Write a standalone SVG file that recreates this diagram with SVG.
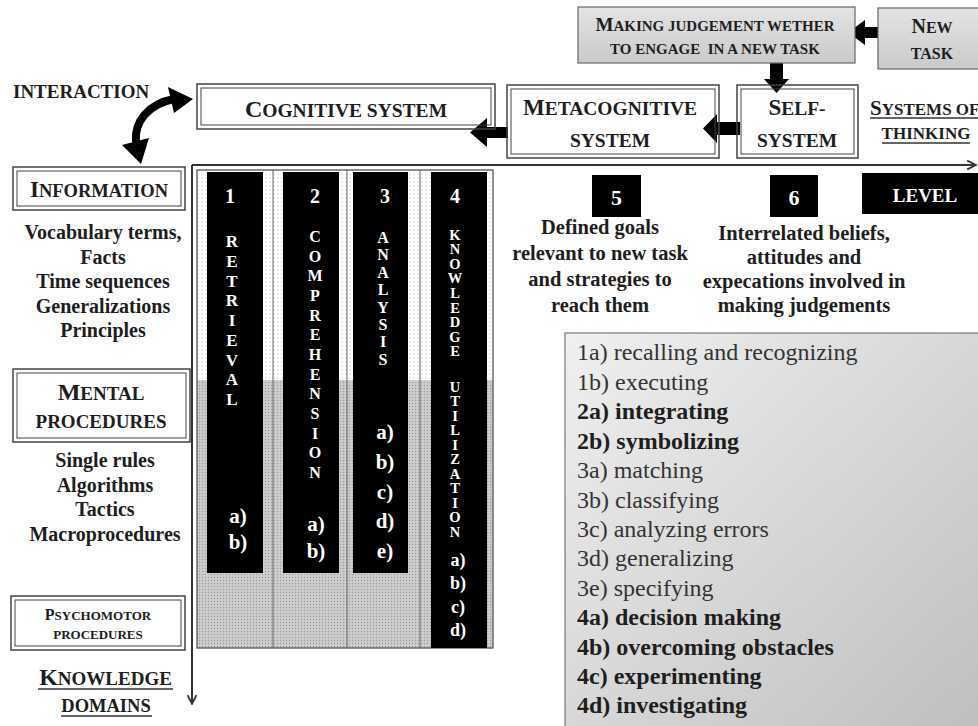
<svg xmlns="http://www.w3.org/2000/svg" width="978" height="726" viewBox="0 0 978 726">
<style>
text{font-family:"Liberation Serif","Times New Roman",serif}
.b{font-weight:bold;fill:#1e1e1e}
.r{font-weight:normal;fill:#333}
.w{font-weight:bold;fill:#fff}
.frame{fill:none;stroke:#444;stroke-width:1.5}
.inner{fill:none;stroke:#444;stroke-width:1}
.bar{fill:#000}
.blk{fill:#000}
.axis{stroke:#333;stroke-width:2;fill:none}
.ul{stroke:#333;stroke-width:1.3}
</style>
<defs>
<pattern id="dotL" width="4" height="4" patternUnits="userSpaceOnUse"><rect width="4" height="4" fill="#fff"/><circle cx="2" cy="2" r="0.8" fill="#cfcfcf"/></pattern>
<pattern id="dotG" width="3" height="3" patternUnits="userSpaceOnUse"><rect width="3" height="3" fill="#cdcdcd"/><circle cx="1.5" cy="1.5" r="0.7" fill="#9c9c9c"/></pattern>
<linearGradient id="gv" x1="0" y1="0" x2="0" y2="1"><stop offset="0" stop-color="#e4e4e4"/><stop offset="1" stop-color="#cacaca"/></linearGradient>
<linearGradient id="gd" x1="0" y1="0" x2="1" y2="1"><stop offset="0" stop-color="#f0f0f0"/><stop offset="1" stop-color="#bdbdbd"/></linearGradient>
<marker id="open" viewBox="0 0 10 10" refX="9" refY="5" markerWidth="11" markerHeight="11" orient="auto" markerUnits="userSpaceOnUse"><path d="M1,1 L9,5 L1,9" fill="none" stroke="#333" stroke-width="1.6"/></marker>
</defs>
<rect width="978" height="726" fill="#fff"/>

<g id="connectors">
<line class="axis" x1="192" y1="165" x2="976" y2="165" marker-end="url(#open)"/>
<line class="axis" x1="192" y1="165" x2="192" y2="704" marker-end="url(#open)"/>
<polygon class="blk" points="887,27 865,27 865,20 848,32.5 865,45 865,38 887,38"/>
<polygon class="blk" points="770,63 783,63 783,79 789,79 776.5,93 764,79 770,79"/>
<polygon class="blk" points="740,122 717,122 717,114 703,128.5 717,143 717,135 740,135"/>
<polygon class="blk" points="508,127 487,127 487,118 470,132.5 487,147 487,138 508,138"/>
<path d="M136,142 C134,122 148,104 174,99" fill="none" stroke="#000" stroke-width="8"/>
<polygon class="blk" points="193,99 168,87 174,113"/>
<polygon class="blk" points="141,164 122,145 149,138"/>
</g>

<g id="interaction"><text class="b" x="13" y="98" font-size="19">INTERACTION</text></g>

<g id="making-judgement">
<rect x="578" y="7" width="277" height="56" fill="url(#gv)" stroke="#666" stroke-width="1.2"/>
<text class="b" x="715" y="31" font-size="15" text-anchor="middle"><tspan font-size="19">M</tspan>AKING JUDGEMENT WETHER</text>
<text class="b" x="715" y="54" font-size="15" text-anchor="middle" style="white-space:pre">TO ENGAGE  IN A NEW TASK</text>
</g>

<g id="new-task">
<rect x="878" y="8" width="110" height="61" fill="url(#gv)" stroke="#666" stroke-width="1.2"/>
<text class="b" x="932" y="33" font-size="16" text-anchor="middle"><tspan font-size="20">N</tspan>EW</text>
<text class="b" x="932" y="59" font-size="16" text-anchor="middle">TASK</text>
</g>

<g id="cognitive-system">
<rect x="197" y="84" width="298" height="45" fill="#d9d9d9" class="frame"/>
<rect x="201" y="88" width="290" height="37" class="inner"/>
<text class="b" x="346" y="117" font-size="19.5" text-anchor="middle"><tspan font-size="24">C</tspan>OGNITIVE SYSTEM</text>
</g>

<g id="metacognitive-system">
<rect x="507" y="85" width="212" height="73" fill="#fff" class="frame"/>
<rect x="511" y="89" width="204" height="65" class="inner"/>
<text class="b" x="610" y="115" font-size="19.5" text-anchor="middle"><tspan font-size="23">M</tspan>ETACOGNITIVE</text>
<text class="b" x="610" y="147" font-size="19.5" text-anchor="middle">SYSTEM</text>
</g>

<g id="self-system">
<rect x="737" y="85" width="121" height="73" fill="#fff" class="frame"/>
<rect x="741" y="89" width="113" height="65" class="inner"/>
<text class="b" x="797" y="115" font-size="19.5" text-anchor="middle"><tspan font-size="23">S</tspan>ELF-</text>
<text class="b" x="797" y="147" font-size="19.5" text-anchor="middle">SYSTEM</text>
</g>

<g id="systems-of-thinking">
<text class="b" x="870" y="115" font-size="17"><tspan font-size="21">S</tspan>YSTEMS OF</text>
<line class="ul" x1="870" y1="118" x2="980" y2="118"/>
<text class="b" x="926" y="139" font-size="17" text-anchor="middle">THINKING</text>
<line class="ul" x1="882" y1="143" x2="970" y2="143"/>
</g>

<g id="information">
<rect x="13" y="167" width="172" height="43" fill="url(#dotL)" class="frame"/>
<rect x="17" y="171" width="164" height="35" class="inner"/>
<text class="b" x="99" y="197" font-size="18.5" text-anchor="middle"><tspan font-size="23">I</tspan>NFORMATION</text>
</g>

<g id="information-list">
<text class="b" x="103" y="239" font-size="20" text-anchor="middle">Vocabulary terms,</text>
<text class="b" x="103" y="263.5" font-size="20" text-anchor="middle">Facts</text>
<text class="b" x="103" y="288" font-size="20" text-anchor="middle">Time sequences</text>
<text class="b" x="103" y="312.5" font-size="20" text-anchor="middle">Generalizations</text>
<text class="b" x="103" y="337" font-size="20" text-anchor="middle">Principles</text>
</g>

<g id="mental-procedures">
<rect x="13" y="369" width="177" height="73" fill="url(#dotG)" class="frame"/>
<rect x="17" y="373" width="169" height="65" class="inner"/>
<text class="b" x="101" y="400" font-size="19" text-anchor="middle"><tspan font-size="24">M</tspan>ENTAL</text>
<text class="b" x="101" y="428" font-size="19" text-anchor="middle">PROCEDURES</text>
</g>

<g id="mental-list">
<text class="b" x="105" y="467" font-size="20" text-anchor="middle">Single rules</text>
<text class="b" x="105" y="491.5" font-size="20" text-anchor="middle">Algorithms</text>
<text class="b" x="105" y="516" font-size="20" text-anchor="middle">Tactics</text>
<text class="b" x="105" y="540.5" font-size="20" text-anchor="middle">Macroprocedures</text>
</g>

<g id="psychomotor-procedures">
<rect x="11" y="596" width="174" height="54" fill="#fff" class="frame"/>
<rect x="15" y="600" width="166" height="46" class="inner"/>
<text class="b" x="98" y="620" font-size="13" text-anchor="middle"><tspan font-size="16">P</tspan>SYCHOMOTOR</text>
<text class="b" x="98" y="639" font-size="13" text-anchor="middle">PROCEDURES</text>
</g>

<g id="knowledge-domains">
<text class="b" x="105.5" y="685" font-size="19" text-anchor="middle"><tspan font-size="24">K</tspan>NOWLEDGE</text>
<line class="ul" x1="38" y1="689" x2="173" y2="689"/>
<text class="b" x="106" y="712" font-size="18.5" text-anchor="middle">DOMAINS</text>
<line class="ul" x1="61" y1="716" x2="152" y2="716"/>
</g>

<g id="level-grid">
<rect x="197" y="170" width="296" height="210" fill="url(#dotL)"/>
<rect x="197" y="380" width="296" height="268" fill="url(#dotG)"/>
<line x1="273" y1="170" x2="273" y2="648" stroke="#666" stroke-width="1"/>
<line x1="347" y1="170" x2="347" y2="648" stroke="#666" stroke-width="1"/>
<line x1="420" y1="170" x2="420" y2="648" stroke="#666" stroke-width="1"/>
<rect x="197" y="170" width="296" height="478" fill="none" stroke="#555" stroke-width="1.3"/>
</g>

<g id="retrieval">
<rect class="bar" x="207" y="172" width="56" height="401"/>
<text class="w" x="230" y="203" font-size="20" text-anchor="middle">1</text>
<text class="w" font-size="17" text-anchor="middle"><tspan x="232" y="247">R</tspan><tspan x="232" dy="19.75">E</tspan><tspan x="232" dy="19.75">T</tspan><tspan x="232" dy="19.75">R</tspan><tspan x="232" dy="19.75">I</tspan><tspan x="232" dy="19.75">E</tspan><tspan x="232" dy="19.75">V</tspan><tspan x="232" dy="19.75">A</tspan><tspan x="232" dy="19.75">L</tspan></text>
<text class="w" font-size="21" text-anchor="middle"><tspan x="238" y="523">a)</tspan><tspan x="238" y="549">b)</tspan></text>
</g>

<g id="comprehension">
<rect class="bar" x="283" y="172" width="56" height="401"/>
<text class="w" x="315" y="203" font-size="20" text-anchor="middle">2</text>
<text class="w" font-size="16" text-anchor="middle"><tspan x="315" y="242">C</tspan><tspan x="315" dy="19.67">O</tspan><tspan x="315" dy="19.67">M</tspan><tspan x="315" dy="19.67">P</tspan><tspan x="315" dy="19.67">R</tspan><tspan x="315" dy="19.67">E</tspan><tspan x="315" dy="19.67">H</tspan><tspan x="315" dy="19.67">E</tspan><tspan x="315" dy="19.67">N</tspan><tspan x="315" dy="19.67">S</tspan><tspan x="315" dy="19.67">I</tspan><tspan x="315" dy="19.67">O</tspan><tspan x="315" dy="19.67">N</tspan></text>
<text class="w" font-size="21" text-anchor="middle"><tspan x="316" y="531">a)</tspan><tspan x="316" y="558">b)</tspan></text>
</g>

<g id="analysis">
<rect class="bar" x="353" y="172" width="55" height="401"/>
<text class="w" x="385" y="203" font-size="20" text-anchor="middle">3</text>
<text class="w" font-size="16" text-anchor="middle"><tspan x="383" y="243">A</tspan><tspan x="383" dy="17.4">N</tspan><tspan x="383" dy="17.4">A</tspan><tspan x="383" dy="17.4">L</tspan><tspan x="383" dy="17.4">Y</tspan><tspan x="383" dy="17.4">S</tspan><tspan x="383" dy="17.4">I</tspan><tspan x="383" dy="17.4">S</tspan></text>
<text class="w" font-size="21" text-anchor="middle"><tspan x="385" y="439">a)</tspan><tspan x="385" y="469">b)</tspan><tspan x="385" y="498.5">c)</tspan><tspan x="385" y="528">d)</tspan><tspan x="385" y="558">e)</tspan></text>
</g>

<g id="knowledge-utilization">
<rect class="bar" x="431" y="172" width="56" height="476"/>
<text class="w" x="455" y="203" font-size="20" text-anchor="middle">4</text>
<text class="w" font-size="14.5" text-anchor="middle"><tspan x="455" y="239.5">K</tspan><tspan x="455" dy="14.6">N</tspan><tspan x="455" dy="14.6">O</tspan><tspan x="455" dy="14.6">W</tspan><tspan x="455" dy="14.6">L</tspan><tspan x="455" dy="14.6">E</tspan><tspan x="455" dy="14.6">D</tspan><tspan x="455" dy="14.6">G</tspan><tspan x="455" dy="14.6">E</tspan><tspan x="455" y="391.5">U</tspan><tspan x="455" dy="14.5">T</tspan><tspan x="455" dy="14.5">I</tspan><tspan x="455" dy="14.5">L</tspan><tspan x="455" dy="14.5">I</tspan><tspan x="455" dy="14.5">Z</tspan><tspan x="455" dy="14.5">A</tspan><tspan x="455" dy="14.5">T</tspan><tspan x="455" dy="14.5">I</tspan><tspan x="455" dy="14.5">O</tspan><tspan x="455" dy="14.5">N</tspan></text>
<text class="w" font-size="18" text-anchor="middle"><tspan x="458" y="566">a)</tspan><tspan x="458" y="589">b)</tspan><tspan x="458" y="612.5">c)</tspan><tspan x="458" y="636">d)</tspan></text>
</g>

<g id="level-5">
<rect class="blk" x="592" y="175" width="49" height="42"/>
<text class="w" x="616.5" y="205" font-size="22" text-anchor="middle">5</text>
<text class="b" x="600" y="234" font-size="20.5" text-anchor="middle">Defined goals</text>
<text class="b" x="600" y="260" font-size="20.5" text-anchor="middle">relevant to new task</text>
<text class="b" x="600" y="286" font-size="20.5" text-anchor="middle">and strategies to</text>
<text class="b" x="600" y="312" font-size="20.5" text-anchor="middle">reach them</text>
</g>

<g id="level-6">
<rect class="blk" x="770" y="175" width="48" height="42"/>
<text class="w" x="794" y="205" font-size="22" text-anchor="middle">6</text>
<text class="b" x="804" y="240" font-size="20.5" text-anchor="middle">Interrelated beliefs,</text>
<text class="b" x="804" y="264" font-size="20.5" text-anchor="middle">attitudes and</text>
<text class="b" x="804" y="288" font-size="20.5" text-anchor="middle">expecations involved in</text>
<text class="b" x="804" y="312" font-size="20.5" text-anchor="middle">making judgements</text>
</g>

<g id="level-label">
<rect class="blk" x="862" y="173" width="120" height="41"/>
<text class="w" x="925" y="202" font-size="19" text-anchor="middle">LEVEL</text>
</g>

<g id="legend">
<rect x="565" y="333" width="430" height="410" fill="url(#gd)" stroke="#777" stroke-width="1.2"/>
<text class="r" x="577" y="360" font-size="24">1a) recalling and recognizing</text>
<text class="r" x="577" y="389.5" font-size="24">1b) executing</text>
<text class="b" x="577" y="419" font-size="24">2a) integrating</text>
<text class="b" x="577" y="448.5" font-size="24">2b) symbolizing</text>
<text class="r" x="577" y="478" font-size="24">3a) matching</text>
<text class="r" x="577" y="507.5" font-size="24">3b) classifying</text>
<text class="r" x="577" y="537" font-size="24">3c) analyzing errors</text>
<text class="r" x="577" y="566" font-size="24">3d) generalizing</text>
<text class="r" x="577" y="595.5" font-size="24">3e) specifying</text>
<text class="b" x="577" y="625" font-size="24">4a) decision making</text>
<text class="b" x="577" y="654.5" font-size="24">4b) overcoming obstacles</text>
<text class="b" x="577" y="684" font-size="24">4c) experimenting</text>
<text class="b" x="577" y="713" font-size="24">4d) investigating</text>
</g>
</svg>
